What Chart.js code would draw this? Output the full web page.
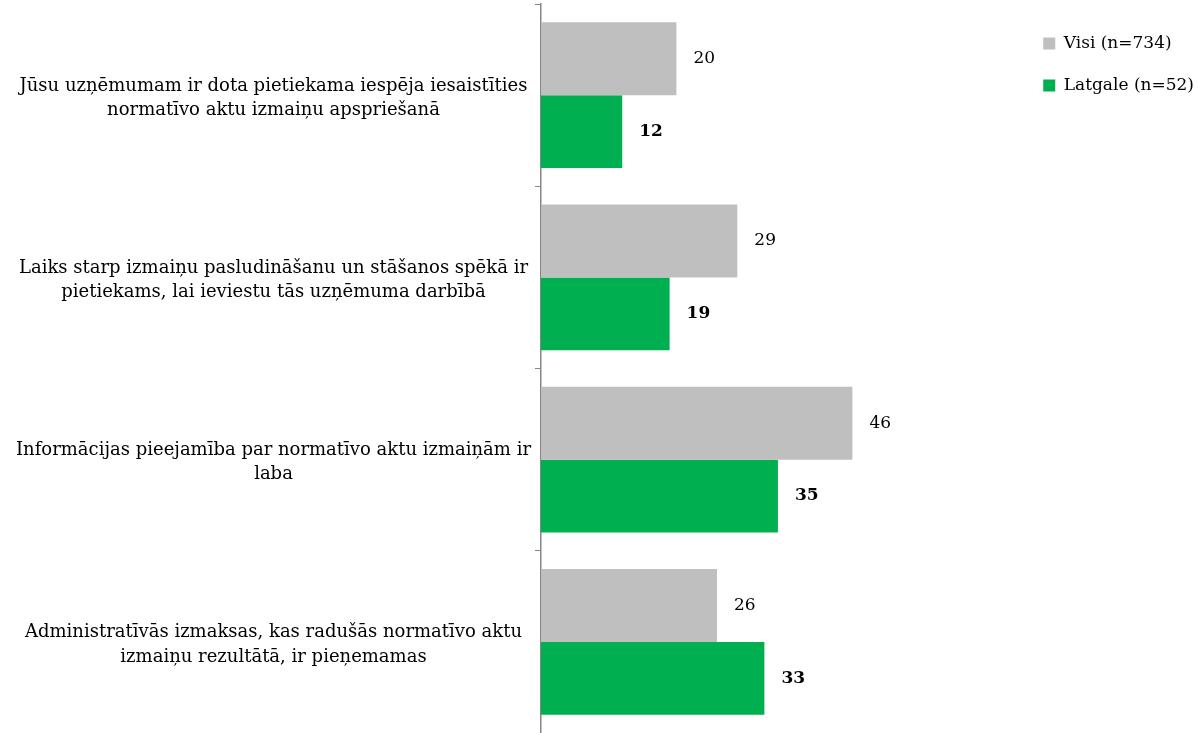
<!DOCTYPE html>
<html>
<head>
<meta charset="utf-8">
<script src="https://cdn.jsdelivr.net/npm/chart.js@4/dist/chart.umd.min.js"></script>
<style>
html,body{margin:0;padding:0;background:#fff;}
#wrap{position:relative;width:1198px;height:733px;}
</style>
</head>
<body>
<div id="wrap"><canvas id="c" width="1198" height="733"></canvas></div>
<script>
const categories = [
  ["Jūsu uzņēmumam ir dota pietiekama iespēja iesaistīties", "normatīvo aktu izmaiņu apspriešanā"],
  ["Laiks starp izmaiņu pasludināšanu un stāšanos spēkā ir", "pietiekams, lai ieviestu tās uzņēmuma darbībā"],
  ["Informācijas pieejamība par normatīvo aktu izmaiņām ir", "laba"],
  ["Administratīvās izmaksas, kas radušās normatīvo aktu", "izmaiņu rezultātā, ir pieņemamas"]
];
const seriesNames = ["Visi (n=734)", "Latgale (n=52)"];
const visiValues = [20, 29, 46, 26];
const latgaleValues = [12, 19, 35, 33];

const FONT = "'DejaVu Serif', serif";

const valueLabels = {
  id: 'valueLabels',
  afterDatasetsDraw(chart) {
    const ctx = chart.ctx;
    ctx.save();
    chart.data.datasets.forEach((ds, i) => {
      const meta = chart.getDatasetMeta(i);
      ctx.font = (i === 1 ? 'bold ' : '') + '17px ' + FONT;
      ctx.fillStyle = '#000';
      ctx.textBaseline = 'middle';
      ctx.textAlign = 'left';
      meta.data.forEach((bar, j) => {
        ctx.fillText(String(ds.data[j]), bar.x + 17, bar.y);
      });
    });
    ctx.restore();
  }
};

new Chart(document.getElementById('c'), {
  type: 'bar',
  data: {
    labels: categories,
    datasets: [
      { label: seriesNames[0], data: visiValues, backgroundColor: '#BFBFBF' },
      { label: seriesNames[1], data: latgaleValues, backgroundColor: '#00B050' }
    ]
  },
  options: {
    indexAxis: 'y',
    responsive: false,
    animation: false,
    devicePixelRatio: 1,
    layout: { padding: { top: 4, bottom: 0, left: 0, right: -6 } },
    datasets: { bar: { categoryPercentage: 0.8, barPercentage: 1.0 } },
    scales: {
      x: { display: false, min: 0, max: 70.5 },
      y: {
        afterFit(scale) {
          scale.width = 541;
          scale.paddingTop = 0;
          scale.paddingBottom = 0;
        },
        grid: { drawOnChartArea: false, drawTicks: true, tickLength: 6, offset: true, color: '#868686', lineWidth: 1 },
        border: { display: true, color: '#868686', width: 1.5 },
        ticks: { color: '#000', font: { family: FONT, size: 18, lineHeight: 1.34 }, crossAlign: 'center', padding: 4, labelOffset: 3 }
      }
    },
    plugins: {
      legend: {
        position: 'right',
        align: 'start',
        title: { display: true, text: ' ', font: { size: 6, lineHeight: 1 }, padding: 0 },
        labels: { color: '#000', font: { family: FONT, size: 17 }, boxWidth: 12, boxHeight: 12, padding: 25 }
      },
      tooltip: { enabled: false }
    }
  },
  plugins: [valueLabels]
});
</script>
</body>
</html>
